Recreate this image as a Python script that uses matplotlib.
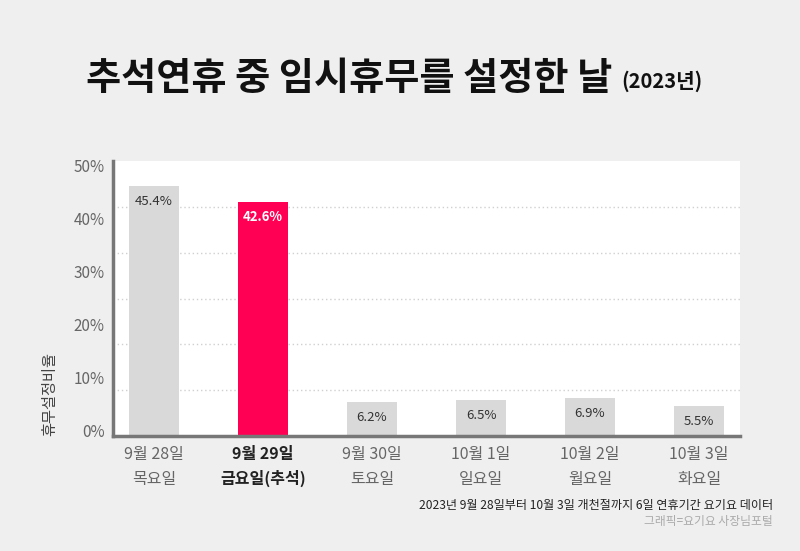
import matplotlib
matplotlib.use("Agg")
import matplotlib.pyplot as plt

plt.rcParams['font.family'] = ['Noto Sans CJK KR', 'DejaVu Sans']

# data
dates = ["9월 28일", "9월 29일", "9월 30일", "10월 1일", "10월 2일", "10월 3일"]
days = ["목요일", "금요일(추석)", "토요일", "일요일", "월요일", "화요일"]
values = [45.4, 42.6, 6.2, 6.5, 6.9, 5.5]
highlight = 1
yticks = [0, 10, 20, 30, 40, 50]

bg = "#efefef"
grey_bar = "#d9d9d9"
red_bar = "#ff0054"

fig = plt.figure(figsize=(8, 5.51), dpi=100, facecolor=bg)
ax = fig.add_axes([0.14125, 0.2087, 0.78375, 0.4991])
ax.set_facecolor("white")

x = list(range(len(values)))
colors = [red_bar if i == highlight else grey_bar for i in x]
ax.bar(x, values, width=0.46, color=colors, zorder=2)

ax.set_xlim(-0.376, len(values) - 1 + 0.376)
ax.set_ylim(0, 50)

# dotted gridlines (6 divisions)
for k in range(1, 6):
    ax.axhline(50 * k / 6, color="#d0d0d0", lw=1, ls=(0, (1, 2)), zorder=1)

# value labels inside bars
for i, v in enumerate(values):
    if i == highlight:
        ax.annotate(f"{v}%", (i, v), xytext=(0, -11), textcoords="offset points",
                    ha="center", va="center", fontsize=9.5, color="white",
                    fontweight="bold", zorder=3)
    else:
        ax.annotate(f"{v}%", (i, v), xytext=(0, -11), textcoords="offset points",
                    ha="center", va="center", fontsize=9.5, color="#333333", zorder=3)

# y labels: squeezed slightly inside the axis ends as in the original
ax.set_yticks(yticks)
ax.set_yticklabels([])
for t in yticks:
    shift_px = 4 - 0.2 * t
    ax.annotate(f"{t}%", (0, t), xycoords=("axes fraction", "data"),
                xytext=(-6, shift_px * 0.72), textcoords="offset points",
                ha="right", va="center", fontsize=11, color="#666666")

ax.set_xticks(x)
ax.set_xticklabels([f"{d}\n{w}" for d, w in zip(dates, days)],
                   fontsize=11.5, color="#666666", linespacing=1.6)
for i, lab in enumerate(ax.get_xticklabels()):
    if i == highlight:
        lab.set_fontweight("bold")
        lab.set_color("#222222")
ax.tick_params(axis="both", length=0)
ax.tick_params(axis="x", pad=7)

for s in ["top", "right"]:
    ax.spines[s].set_visible(False)
for s in ["left", "bottom"]:
    ax.spines[s].set_color("#777777")
    ax.spines[s].set_linewidth(2.5)

ax.set_ylabel("휴무설정비율", fontsize=11, color="#444444", loc="bottom")
ax.yaxis.set_label_coords(-0.088, 0)

# title
fig.text(0.108, 0.858, "추석연휴 중 임시휴무를 설정한 날", fontsize=27.5, fontweight="bold",
         color="#111111", ha="left", va="center")
fig.text(0.777, 0.853, "(2023년)", fontsize=14.5, fontweight="bold",
         color="#111111", ha="left", va="center")

# source notes
fig.text(0.966, 0.083, "2023년 9월 28일부터 10월 3일 개천절까지 6일 연휴기간 요기요 데이터",
         fontsize=8.7, color="#222222", ha="right", va="center")
fig.text(0.966, 0.054, "그래픽=요기요 사장님포털", fontsize=8.5, color="#aaaaaa",
         ha="right", va="center")

fig.savefig("out.png", dpi=100, facecolor=bg)
